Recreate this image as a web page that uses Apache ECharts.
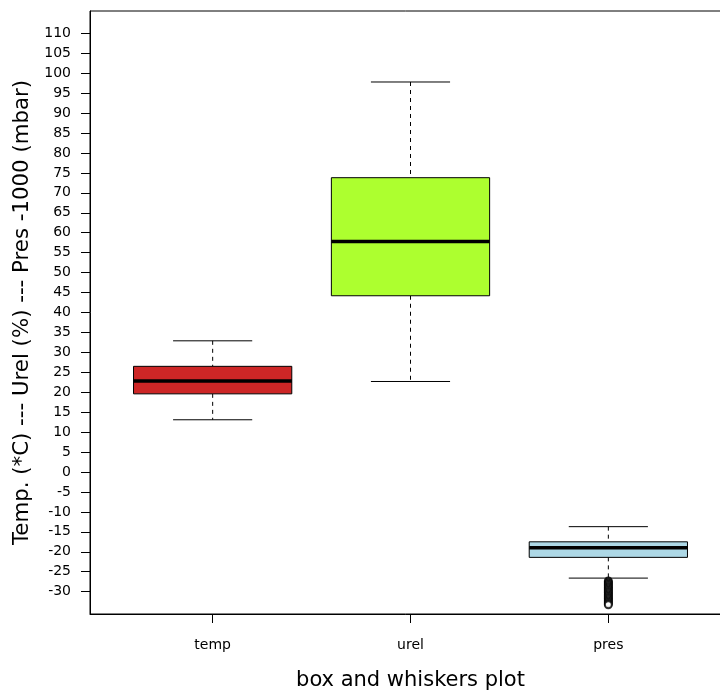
<!DOCTYPE html>
<html>
<head>
<meta charset="utf-8">
<script src="https://cdn.jsdelivr.net/npm/echarts@6/dist/echarts.min.js"></script>
<style>
html,body{margin:0;padding:0;background:#fff;}
#chart{width:720px;height:690px;}
</style>
</head>
<body>
<div id="chart"></div>
<script>
const categories = ['temp', 'urel', 'pres'];
const positions = [1, 2, 3];
const lowerWhisker = [13.1, 22.7, -26.6];
const q1 = [19.6, 44.2, -21.4];
const median = [22.8, 57.8, -19.0];
const q3 = [26.5, 73.8, -17.5];
const upperWhisker = [32.9, 97.8, -13.7];
const boxColors = ['#CD2626', '#ADFF2F', '#ADD8E6'];
const presOutliers = [-27.3, -27.6, -27.9, -28.2, -28.5, -28.8, -29.1, -29.4, -29.7, -30.0, -30.3, -30.6, -30.9, -31.2, -31.5, -31.8, -32.1, -32.4, -32.7, -33.0, -33.3];
const yTicks = [-30, -25, -20, -15, -10, -5, 0, 5, 10, 15, 20, 25, 30, 35, 40, 45, 50, 55, 60, 65, 70, 75, 80, 85, 90, 95, 100, 105, 110];
const yTitle = 'Temp. (*C) --- Urel (%) --- Pres -1000 (mbar)';
const xTitle = 'box and whiskers plot';

const boxData = positions.map((p, i) => [p, lowerWhisker[i], q1[i], median[i], q3[i], upperWhisker[i]]);
const outlierData = presOutliers.map(v => [3, v]);

const FONT = 'DejaVu Sans, sans-serif';

function renderItem(params, api) {
  const x = api.value(0);
  const pLo = api.coord([x, api.value(1)]);
  const pQ1 = api.coord([x, api.value(2)]);
  const pMed = api.coord([x, api.value(3)]);
  const pQ3 = api.coord([x, api.value(4)]);
  const pHi = api.coord([x, api.value(5)]);
  const halfW = api.size([0.4, 0])[0];
  const stW = halfW / 2;
  const cx = pMed[0];
  const line = (x1, y1, x2, y2, w, dash) => ({
    type: 'line',
    shape: {x1: x1, y1: y1, x2: x2, y2: y2},
    style: {stroke: '#000', lineWidth: w, lineDash: dash || null, fill: null}
  });
  return {
    type: 'group',
    children: [
      line(cx, pHi[1], cx, pQ3[1], 1, [4, 4]),
      line(cx, pQ1[1], cx, pLo[1], 1, [4, 4]),
      line(cx - stW, pHi[1], cx + stW, pHi[1], 1),
      line(cx - stW, pLo[1], cx + stW, pLo[1], 1),
      {
        type: 'rect',
        shape: {x: cx - halfW, y: pQ3[1], width: 2 * halfW, height: pQ1[1] - pQ3[1]},
        style: {fill: boxColors[params.dataIndex], stroke: '#000', lineWidth: 1}
      },
      line(cx - halfW, pMed[1], cx + halfW, pMed[1], 3.5)
    ]
  };
}

const chart = echarts.init(document.getElementById('chart'), null, {renderer: 'canvas'});
chart.setOption({
  backgroundColor: '#fff',
  animation: false,
  grid: {
    left: 90, top: 11, right: -11, bottom: 76,
    containLabel: false, outerBoundsMode: 'none',
    show: true, borderColor: '#000', borderWidth: 1, backgroundColor: 'transparent'
  },
  xAxis: {
    type: 'value', min: 0.38, max: 3.62,
    splitLine: {show: false},
    axisLine: {show: true, onZero: false, lineStyle: {color: '#000', width: 1}},
    axisTick: {show: true, length: 9, customValues: positions, lineStyle: {color: '#000'}},
    axisLabel: {
      customValues: positions, margin: 24, fontSize: 14, color: '#000', fontFamily: FONT,
      formatter: v => categories[Math.round(v) - 1]
    },
    name: xTitle, nameLocation: 'middle', nameGap: 56,
    nameTextStyle: {fontSize: 21, color: '#000', fontFamily: FONT}
  },
  yAxis: {
    type: 'value', min: -35.6, max: 115.6,
    splitLine: {show: false},
    axisLine: {show: true, onZero: false, lineStyle: {color: '#000', width: 1}},
    axisTick: {show: true, length: 9, customValues: yTicks, lineStyle: {color: '#000'}},
    axisLabel: {customValues: yTicks, margin: 19, fontSize: 14, color: '#000', fontFamily: FONT},
    name: yTitle, nameLocation: 'middle', nameGap: 56,
    nameTextStyle: {fontSize: 21.3, color: '#000', fontFamily: FONT}
  },
  series: [
    {
      type: 'custom',
      renderItem: renderItem,
      data: boxData,
      encode: {x: 0, y: [1, 2, 3, 4, 5]},
      clip: false
    },
    {
      type: 'scatter',
      data: outlierData,
      symbol: 'emptyCircle',
      symbolSize: 7,
      itemStyle: {color: '#000', borderColor: '#000', borderWidth: 1}
    }
  ]
});
</script>
</body>
</html>
